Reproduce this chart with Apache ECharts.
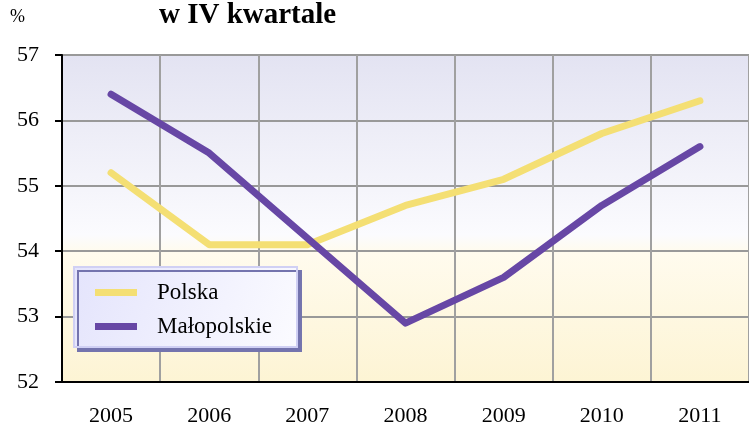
<!DOCTYPE html>
<html><head><meta charset="utf-8">
<script src="https://cdn.jsdelivr.net/npm/echarts@6/dist/echarts.min.js"></script>
<style>html,body{margin:0;padding:0;background:#fff}#c{width:749px;height:427px}</style>
</head><body><div id="c"></div>
<script>
const categories = ['2005','2006','2007','2008','2009','2010','2011'];
const polska = [55.2, 54.1, 54.1, 54.7, 55.1, 55.8, 56.3];
const malopolskie = [56.4, 55.5, 54.2, 52.9, 53.6, 54.7, 55.6];
const seriesNames = ['Polska', 'Małopolskie'];
const titleText = 'w IV kwartale';
const unitText = '%';

const font = '"Liberation Serif","Times New Roman",serif';
const chart = echarts.init(document.getElementById('c'));
chart.setOption({
  animation: false,
  textStyle: { fontFamily: font },
  title: [
    { text: titleText, left: 159, top: 1, padding: 0, textStyle: { fontFamily: font, fontSize: 29, fontWeight: 'bold', color: '#000' } },
    { text: unitText, left: 10, top: 8, padding: 0, textStyle: { fontFamily: font, fontSize: 18, fontWeight: 'normal', color: '#000' } }
  ],
  grid: {
    left: 62, top: 55, width: 695, height: 327, show: true, borderWidth: 0,
    backgroundColor: { type: 'linear', x: 0, y: 0, x2: 0, y2: 1, colorStops: [
      { offset: 0, color: '#e3e3f2' },
      { offset: 0.55, color: '#fbfbfe' },
      { offset: 0.6, color: '#fffbee' },
      { offset: 1, color: '#fdf4d4' }
    ] }
  },
  legend: {
    orient: 'vertical', left: 74, top: 267,
    data: seriesNames,
    icon: 'rect', itemWidth: 42, itemHeight: 7, itemGap: 11,
    padding: [14, 25, 9, 21],
    textStyle: { fontFamily: font, fontSize: 23, color: '#000', padding: [0, 0, 0, 15] },
    backgroundColor: { type: 'linear', x: 0, y: 0, x2: 1, y2: 1, colorStops: [
      { offset: 0, color: '#e4e4fc' }, { offset: 1, color: '#fbfbff' } ] },
    borderColor: '#d0d0f4', borderWidth: 2,
    shadowColor: '#7474ae', shadowBlur: 0, shadowOffsetX: 4, shadowOffsetY: 4
  },
  xAxis: {
    type: 'category', data: categories, boundaryGap: true,
    axisLine: { lineStyle: { color: '#000', width: 2 } },
    axisTick: { show: false },
    axisLabel: { color: '#000', fontFamily: font, fontSize: 22, margin: 23 },
    splitLine: { show: true, lineStyle: { color: '#a0a0a0', width: 2 } }
  },
  yAxis: {
    type: 'value', min: 52, max: 57, interval: 1,
    axisLine: { show: true, lineStyle: { color: '#000', width: 2 } },
    axisTick: { show: true, length: 7, lineStyle: { color: '#000', width: 2 } },
    axisLabel: { color: '#000', fontFamily: font, fontSize: 22, margin: 23 },
    splitLine: { show: true, lineStyle: { color: '#999', width: 2 } }
  },
  series: [
    { name: seriesNames[0], type: 'line', data: polska, symbol: 'none', color: '#f4df74',
      lineStyle: { width: 7, color: '#f4df74', cap: 'round', join: 'round' } },
    { name: seriesNames[1], type: 'line', data: malopolskie, symbol: 'none', color: '#6747a5',
      lineStyle: { width: 7, color: '#6747a5', cap: 'round', join: 'round' } }
  ]
});
</script></body></html>
